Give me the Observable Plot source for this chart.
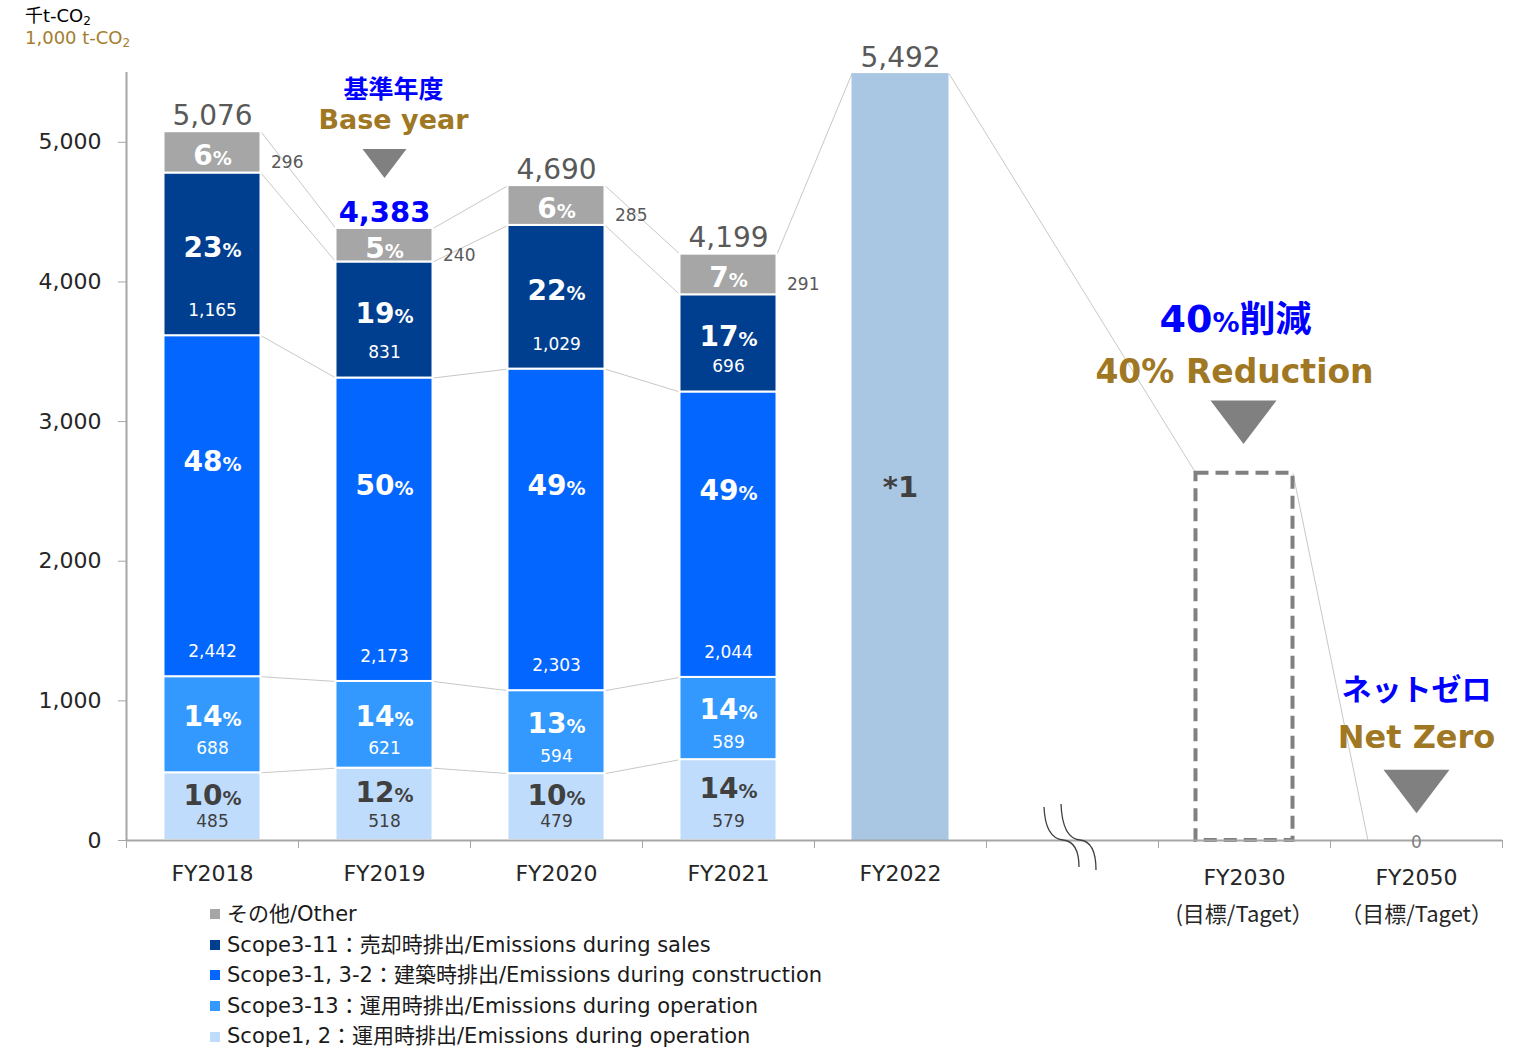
<!DOCTYPE html>
<html><head><meta charset="utf-8">
<script src="https://cdn.jsdelivr.net/npm/d3@7"></script>
<script src="https://cdn.jsdelivr.net/npm/@observablehq/plot@0.6"></script>
<style>
body{margin:0;background:#fff;font-family:"DejaVu Sans","Noto Sans CJK JP",sans-serif;}
#wrap{position:relative;width:1527px;height:1049px;overflow:hidden;}
#units{position:absolute;left:25px;top:5px;font-size:18px;line-height:22px;color:#000;}
#units .gold{color:#A47D2E;}
#units sub{font-size:12px;vertical-align:-3px;line-height:0;}
#legend{position:absolute;left:210px;top:899px;font-size:21px;color:#1a1a1a;}
#legend .row{height:30.6px;line-height:30.6px;white-space:nowrap;display:flex;align-items:center;}
#legend .sw{width:10px;height:10px;margin-right:7px;display:inline-block;}
</style></head><body>
<div id="wrap">
<div id="chart"></div>
<div id="units"><div>千t-CO<sub>2</sub></div><div class="gold">1,000 t-CO<sub>2</sub></div></div>
<div id="legend"></div>
</div>
<script>
// ---- data ----
const years = ["FY2018", "FY2019", "FY2020", "FY2021"];
const scope12 = [485, 518, 479, 579];
const scope3_13 = [688, 621, 594, 589];
const scope3_1_2 = [2442, 2173, 2303, 2044];
const scope3_11 = [1165, 831, 1029, 696];
const other = [296, 240, 285, 291];
const pct12 = [10, 12, 10, 14];
const pct3_13 = [14, 14, 13, 14];
const pct3_1_2 = [48, 50, 49, 49];
const pct3_11 = [23, 19, 22, 17];
const pctOther = [6, 5, 6, 7];
const totals = [5076, 4383, 4690, 4199];
const fy2022Total = 5492;
const fy2030Target = 2630;
const fy2050Target = 0;
const categories = ["FY2018", "FY2019", "FY2020", "FY2021", "FY2022", "", "FY2030", "FY2050"];
const targetCategories = ["FY2030", "FY2050"];
const targetNotes = ["(目標/Taget）", "（目標/Taget）"];
const seriesNames = ["Scope1, 2", "Scope3-13", "Scope3-1, 3-2", "Scope3-11", "Other"];
const legendLabels = [
  "その他/Other",
  "Scope3-11：売却時排出/Emissions during sales",
  "Scope3-1, 3-2：建築時排出/Emissions during construction",
  "Scope3-13：運用時排出/Emissions during operation",
  "Scope1, 2：運用時排出/Emissions during operation"
];
const yTicks = [0, 1000, 2000, 3000, 4000, 5000];

// ---- styles ----
const colors = ["#BFDCFC", "#3399FF", "#0366FF", "#003F8F", "#A6A6A6"];
const legendColors = [colors[4], colors[3], colors[2], colors[1], colors[0]];
const fy2022Color = "#A9C6E3";
const labelFill = ["#404040", "white", "white", "white", "white"];
const pctDy = [-11, -8, -44, -6, 4];
const HW = 0.282; // half bar width in band units
const BLUE = "#0000FF", GOLD = "#A07824", GRAY = "#595959";
const FONT = "DejaVu Sans, Noto Sans CJK JP, sans-serif";
const CJK = "Noto Sans CJK JP, DejaVu Sans, sans-serif";
const ix = c => categories.indexOf(c);

// ---- derived tables ----
const seriesValues = [scope12, scope3_13, scope3_1_2, scope3_11, other];
const seriesPct = [pct12, pct3_13, pct3_1_2, pct3_11, pctOther];
const segs = [];
years.forEach((yr, i) => {
  let base = 0;
  seriesValues.forEach((vals, s) => {
    segs.push({x: ix(yr), s, series: seriesNames[s], value: vals[i], pct: seriesPct[s][i], y1: base, y2: base + vals[i]});
    base += vals[i];
  });
});
const links = [];
for (let i = 0; i < years.length - 1; i++) {
  for (let s = 0; s < seriesNames.length; s++) {
    const a = segs.find(d => d.x === ix(years[i]) && d.s === s);
    const b = segs.find(d => d.x === ix(years[i + 1]) && d.s === s);
    links.push({x1: a.x + HW, y1: a.y2, x2: b.x - HW, y2: b.y2});
  }
}
links.push({x1: ix("FY2021") + HW, y1: totals[3], x2: ix("FY2022") - HW, y2: fy2022Total});
links.push({x1: ix("FY2022") + HW, y1: fy2022Total, x2: ix("FY2030") - HW, y2: fy2030Target});
links.push({x1: ix("FY2030") + HW, y1: fy2030Target, x2: ix("FY2050") - HW, y2: fy2050Target});

const totalRows = years.map((yr, i) => ({x: ix(yr), v: totals[i], base: yr === "FY2019"}));
totalRows.push({x: ix("FY2022"), v: fy2022Total, base: false});

const downTri = {draw(ctx, size) { const r = Math.sqrt(size / Math.PI), h = r * 0.66; ctx.moveTo(-r, -h); ctx.lineTo(r, -h); ctx.lineTo(0, h); ctx.closePath(); }};

function breakMark(index, scales) {
  const cx = scales.x(ix("")), cy = scales.y(0);
  const g = d3.create("svg:g").attr("fill", "none").attr("stroke", "#404040").attr("stroke-width", 1.3);
  for (const [off, t, b] of [[-9, 33, 27], [8, 36, 30]]) {
    g.append("path").attr("d",
      `M${cx + off - 19},${cy - t} C${cx + off - 18},${cy - 10} ${cx + off - 10},${cy - 1} ${cx + off},${cy} ` +
      `C${cx + off + 10},${cy + 1} ${cx + off + 16},${cy + 10} ${cx + off + 16},${cy + b}`);
  }
  return g.node();
}

const marks = [
  Plot.link(links, {x1: "x1", y1: "y1", x2: "x2", y2: "y2", stroke: "#C8C8C8", strokeWidth: 1}),
  Plot.rect(segs, {x1: d => d.x - HW, x2: d => d.x + HW, y1: "y1", y2: "y2", fill: d => colors[d.s], stroke: "white", strokeWidth: 2}),
  Plot.rect([fy2022Total], {x1: ix("FY2022") - HW, x2: ix("FY2022") + HW, y1: 0, y2: d => d, fill: fy2022Color}),
  Plot.rect([fy2030Target], {x1: ix("FY2030") - HW, x2: ix("FY2030") + HW, y1: 0, y2: d => d, fill: "none", stroke: "#808080", strokeWidth: 4, strokeDasharray: "13,7"}),
  Plot.ruleY([0], {stroke: "#A6A6A6", strokeWidth: 2}),
  Plot.ruleX([-0.5], {y1: 0, y2: 5500, stroke: "#A6A6A6", strokeWidth: 2}),
  Plot.axisY({ticks: yTicks, tickSize: 8, tickPadding: 17, tickFormat: d3.format(","), fontSize: 22, stroke: "#A6A6A6", fill: "#262626", label: null}),
  Plot.axisX({ticks: d3.range(-0.5, 8, 1), tickSize: 8, tickFormat: () => "", stroke: "#A6A6A6", label: null}),
  breakMark,
  Plot.text(categories.slice(0, 5), {x: d => ix(d), y: 0, text: d => d, dy: 33, fontSize: 22, fill: "#262626"}),
  Plot.text(targetCategories, {x: d => ix(d), y: 0, text: d => d, dy: 37, fontSize: 22, fill: "#262626"}),
  Plot.text(targetCategories, {x: d => ix(d), y: 0, text: (d, i) => targetNotes[i], dy: 74, fontSize: 22, fill: "#262626", fontFamily: CJK})
];

// segment labels
for (let s = 0; s < seriesNames.length; s++) {
  const data = segs.filter(d => d.s === s);
  marks.push(Plot.text(data, {x: "x", y: d => (d.y1 + d.y2) / 2, text: d => d.pct + "%", dy: pctDy[s], fill: labelFill[s], fontSize: 28, fontWeight: "bold"}));
  if (s === 4) {
    marks.push(Plot.text(data, {x: d => d.x + HW, y: d => (d.y1 + d.y2) / 2, text: d => d3.format(",")(d.value), dx: 10, dy: 10, textAnchor: "start", fill: GRAY, fontSize: 17}));
  } else if (s === 1) {
    marks.push(Plot.text(data, {x: "x", y: d => (d.y1 + d.y2) / 2, text: d => d3.format(",")(d.value), dy: 24, fill: labelFill[s], fontSize: 17}));
  } else {
    marks.push(Plot.text(data, {x: "x", y: "y1", text: d => d3.format(",")(d.value), dy: s === 0 ? -19 : -25, fill: labelFill[s], fontSize: 17}));
  }
}

marks.push(
  Plot.text(totalRows.filter(d => !d.base), {x: "x", y: "v", text: d => d3.format(",")(d.v), lineAnchor: "bottom", dy: -7, fontSize: 28, fill: GRAY}),
  Plot.text(totalRows.filter(d => d.base), {x: "x", y: "v", text: d => d3.format(",")(d.v), lineAnchor: "bottom", dy: -6, fontSize: 29, fontWeight: "bold", fill: BLUE}),
  Plot.text([fy2022Total], {x: ix("FY2022"), y: d => d / 2, text: () => "*1", dy: 31, fontSize: 29, fontWeight: "bold", fill: "#404040"}),
  // base year annotation
  Plot.text([totals[1]], {x: ix("FY2019"), y: d => d, text: () => "基準年度", dx: 9, dy: -138, fontSize: 25, fontWeight: "bold", fill: BLUE, fontFamily: CJK}),
  Plot.text([totals[1]], {x: ix("FY2019"), y: d => d, text: () => "Base year", dx: 9, dy: -108, fontSize: 27, fontWeight: "bold", fill: GOLD}),
  Plot.dot([totals[1]], {x: ix("FY2019"), y: d => d, dy: -65, r: 22, symbol: downTri, fill: "#808080"}),
  // 2030 annotation
  Plot.text([fy2030Target], {x: ix("FY2030"), y: d => d, text: () => "40%削減", dx: -9, dy: -153, fontSize: 38, fontWeight: "bold", fill: BLUE}),
  Plot.text([fy2030Target], {x: ix("FY2030"), y: d => d, text: () => "40% Reduction", dx: -10, dy: -101, fontSize: 33, fontWeight: "bold", fill: GOLD}),
  Plot.dot([fy2030Target], {x: ix("FY2030"), y: d => d, dx: -1, dy: -51, r: 33, symbol: downTri, fill: "#808080"}),
  // 2050 annotation
  Plot.text([fy2050Target], {x: ix("FY2050"), y: d => d, text: () => "ネットゼロ", dy: -150, fontSize: 30, fontWeight: "bold", fill: BLUE, fontFamily: CJK}),
  Plot.text([fy2050Target], {x: ix("FY2050"), y: d => d, text: () => "Net Zero", dy: -103, fontSize: 32, fontWeight: "bold", fill: GOLD}),
  Plot.dot([fy2050Target], {x: ix("FY2050"), y: d => d, dy: -49, r: 33, symbol: downTri, fill: "#808080"}),
  Plot.text([fy2050Target], {x: ix("FY2050"), y: d => d, text: d => String(d), dy: 2, fontSize: 17, fill: "#7F7F7F"})
);

const chart = Plot.plot({
  width: 1527, height: 1049,
  marginLeft: 126, marginRight: 25, marginTop: 72, marginBottom: 209,
  x: {type: "linear", domain: [-0.5, 7.5]},
  y: {domain: [0, 5500]},
  style: {fontFamily: FONT, background: "white", overflow: "visible"},
  marks
});

// render the "%" sign smaller, as in the original
const SVGNS = "http://www.w3.org/2000/svg";
chart.querySelectorAll("text").forEach(t => {
  if (t.children.length) return;
  const s = t.textContent;
  let m = s.match(/^(\d+)%$/);
  if (m) {
    t.textContent = m[1];
    const sp = document.createElementNS(SVGNS, "tspan");
    sp.setAttribute("font-size", 19); sp.textContent = "%";
    t.appendChild(sp);
    return;
  }
  m = s.match(/^(\d+)%(削減)$/);
  if (m) {
    t.textContent = m[1];
    const sp = document.createElementNS(SVGNS, "tspan");
    sp.setAttribute("font-size", 27); sp.textContent = "%";
    const rest = document.createElementNS(SVGNS, "tspan");
    rest.setAttribute("font-size", 36); rest.setAttribute("font-family", CJK); rest.textContent = m[2];
    t.appendChild(sp); t.appendChild(rest);
  }
});
document.getElementById("chart").appendChild(chart);

const lg = d3.select("#legend");
legendLabels.forEach((l, i) => {
  const r = lg.append("div").attr("class", "row");
  r.append("span").attr("class", "sw").style("background", legendColors[i]);
  r.append("span").text(l);
});
</script>
</body></html>
